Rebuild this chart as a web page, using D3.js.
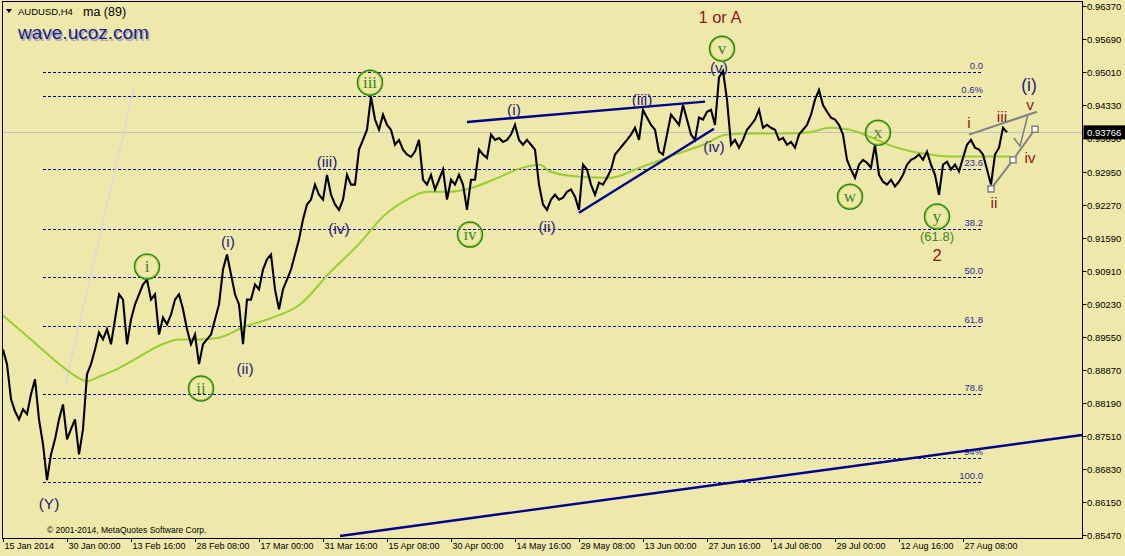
<!DOCTYPE html>
<html><head><meta charset="utf-8">
<script src="https://cdn.jsdelivr.net/npm/d3@7"></script>
<style>
html,body{margin:0;padding:0;background:#eee8aa;}
svg{display:block;}
</style>
</head><body>
<svg id="c" width="1125" height="556"></svg>
<script>
// ---------- data ----------
const dateLabels = ["15 Jan 2014","30 Jan 00:00","13 Feb 16:00","28 Feb 08:00","17 Mar 00:00","31 Mar 16:00","15 Apr 08:00","30 Apr 00:00","14 May 16:00","29 May 08:00","13 Jun 00:00","27 Jun 16:00","14 Jul 08:00","29 Jul 00:00","12 Aug 16:00","27 Aug 08:00"];
const dateTickBars = [0,64,128,192,256,320,384,448,512,576,640,704,768,832,896,960];
const priceTicks = [0.96370,0.95690,0.95010,0.94330,0.93650,0.92950,0.92270,0.91590,0.90910,0.90230,0.89550,0.88870,0.88190,0.87510,0.86830,0.86150,0.85470];
const barStep = 4; // one sample every 4 H4 bars
const closes = [
0.8929,0.8899,0.8827,0.8802,0.8785,0.8806,0.8796,0.8837,0.8868,0.8785,
0.8734,0.8660,0.8713,0.8744,0.8785,0.8816,0.8744,0.8765,0.8785,0.8713,
0.8765,0.8878,0.8899,0.8929,0.8964,0.8950,0.8971,0.8940,0.8991,0.9043,
0.9032,0.8940,0.8991,0.9022,0.9043,0.9063,0.9073,0.9032,0.9043,0.8960,
0.8995,0.8981,0.9001,0.9032,0.9043,0.9012,0.8971,0.8940,0.8960,0.8899,
0.8940,0.8950,0.8960,0.8991,0.9022,0.9094,0.9125,0.9084,0.9043,0.9022,
0.8940,0.9032,0.9032,0.9063,0.9053,0.9094,0.9115,0.9125,0.9053,0.9012,
0.9053,0.9073,0.9094,0.9125,0.9156,0.9197,0.9228,0.9238,0.9269,0.9248,
0.9238,0.9289,0.9248,0.9228,0.9217,0.9238,0.9289,0.9269,0.9269,0.9341,
0.9361,0.9382,0.9450,0.9403,0.9382,0.9413,0.9392,0.9382,0.9351,0.9361,
0.9341,0.9331,0.9326,0.9337,0.9361,0.9279,0.9269,0.9289,0.9259,0.9279,
0.9300,0.9238,0.9279,0.9269,0.9289,0.9269,0.9217,0.9279,0.9279,0.9341,
0.9331,0.9324,0.9372,0.9361,0.9365,0.9357,0.9361,0.9372,0.9392,0.9361,
0.9351,0.9361,0.9351,0.9341,0.9269,0.9228,0.9217,0.9238,0.9248,0.9238,
0.9242,0.9254,0.9259,0.9244,0.9217,0.9310,0.9300,0.9269,0.9248,0.9273,
0.9269,0.9283,0.9300,0.9331,0.9341,0.9351,0.9361,0.9372,0.9386,0.9361,
0.9423,0.9407,0.9392,0.9382,0.9337,0.9331,0.9372,0.9413,0.9403,0.9392,
0.9433,0.9403,0.9372,0.9361,0.9407,0.9403,0.9419,0.9423,0.9392,0.9490,
0.9503,0.9444,0.9351,0.9361,0.9345,0.9361,0.9382,0.9392,0.9403,0.9423,
0.9386,0.9392,0.9386,0.9382,0.9361,0.9365,0.9351,0.9357,0.9345,0.9372,
0.9382,0.9392,0.9413,0.9444,0.9464,0.9433,0.9419,0.9407,0.9403,0.9392,
0.9372,0.9320,0.9300,0.9283,0.9310,0.9320,0.9314,0.9304,0.9351,0.9289,
0.9275,0.9269,0.9279,0.9265,0.9275,0.9289,0.9310,0.9320,0.9324,0.9331,
0.9320,0.9337,0.9310,0.9289,0.9248,0.9310,0.9316,0.9300,0.9310,0.9296,
0.9324,0.9351,0.9361,0.9345,0.9341,0.9331,0.9300,0.9269,0.9331,0.9345,
0.9386,0.93766
];
const maBars = [0,30,54,67,84,97,117,137,157,177,197,217,240,267,297,327,357,380,404,424,444,470,497,520,537,547,577,607,637,667,700,724,754,780,807,827,847,867,894,920,947,974,1007];
const maValues = [0.8999,0.8946,0.8903,0.8882,0.8864,0.8874,0.8892,0.8915,0.8938,0.8950,0.8950,0.8954,0.8975,0.8993,0.9022,0.9088,0.9149,0.9203,0.9238,0.9254,0.9254,0.9263,0.9285,0.9304,0.9310,0.9296,0.9285,0.9283,0.9304,0.9327,0.9351,0.9372,0.9374,0.9374,0.9377,0.9386,0.9382,0.9367,0.9345,0.9333,0.9327,0.9327,0.9327];
const lastPrice = 0.93766;
const fibHigh = 0.9500, fibLow = 0.8656;
const fibRatios = [0,0.057,0.236,0.382,0.5,0.618,0.786,0.94,1.0];
const fibLabels = ["0.0","0.6%","23.6","38.2","50.0","61.8","78.6","94%","100.0"];
const fibFromBar = 40, fibToBar = 980;
// trendlines [bar, price, bar, price]
const blueLines = [[464,0.9398,702,0.9440],[576,0.9211,711,0.9384],[337,0.8545,1079,0.8753]];
const faintLine = [62,0.8853,131,0.9468];
const grayUpper = [[966,0.9372],[1034,0.9419]];
const grayPath = [[988,0.9260],[1010,0.9320],[1032,0.9383]];
const grayArrow = [[1025,0.9414],[1017,0.9348],[1011,0.9365]];
// wave labels [text, bar, price]
const navyLabels = [["(Y)",46,0.8611],["(i)",225,0.9152],["(ii)",242,0.8890],["(iii)",324,0.9316],["(iv)",336,0.9178],["(i)",511,0.9423],["(ii)",544,0.9182],["(iii)",639,0.9444],["(iv)",711,0.9347],["(v)",716,0.9511]];
const bigNavyLabels = [["(i)",1026,0.9474]];
const circleLabels = [["i",144,0.9100],["ii",198,0.8849],["iii",367,0.9479],["iv",467,0.9166],["v",719,0.9549],["w",847,0.9244],["x",875,0.9376],["y",934,0.9203]];
const redLabels = [["i",966,0.9396],["ii",991,0.9232],["iii",999,0.9409],["iv",1027,0.9324],["v",1027,0.9435]];
const bigRedLabels = [["2",934,0.9124],["1 or A",717,0.9614]];
const greenLabels = [["(61.8)",934,0.9162]];

// ---------- scales ----------
const W = 1125, H = 556;
const L = 2.5, R = 1082.5, T = 1.5, B = 538;
const x = d3.scaleLinear().domain([-1, 1079]).range([2, 1082]);
const y = d3.scaleLinear().domain([0.85408, 0.96452]).range([538, 2]);

const svg = d3.select("#c");
svg.append("rect").attr("width", W).attr("height", H).attr("fill", "#eee8aa");
svg.append("defs").append("clipPath").attr("id","clip")
  .append("rect").attr("x", L).attr("y", T).attr("width", R - L).attr("height", B - T);
const plot = svg.append("g").attr("clip-path","url(#clip)");

// fib levels
const fibG = plot.append("g");
fibRatios.forEach((r, i) => {
  const p = fibHigh - r * (fibHigh - fibLow);
  fibG.append("line").attr("x1", x(fibFromBar)).attr("x2", x(fibToBar))
    .attr("y1", Math.round(y(p)) + 0.5).attr("y2", Math.round(y(p)) + 0.5)
    .attr("stroke", "#00008b").attr("stroke-width", 1).attr("stroke-dasharray", "3,2");
  fibG.append("text").attr("x", x(fibToBar)).attr("y", y(p) - 3)
    .attr("text-anchor", "end").attr("font-family", "Liberation Sans, Arial, sans-serif")
    .attr("font-size", 9.5).attr("fill", "#2a2a9a").text(fibLabels[i]);
});

// current price line
plot.append("line").attr("x1", L).attr("x2", R)
  .attr("y1", Math.round(y(lastPrice)) + 0.5).attr("y2", Math.round(y(lastPrice)) + 0.5)
  .attr("stroke", "#c0c0c0").attr("stroke-width", 1);

// faint line
plot.append("line").attr("x1", x(faintLine[0])).attr("y1", y(faintLine[1]))
  .attr("x2", x(faintLine[2])).attr("y2", y(faintLine[3]))
  .attr("stroke", "#d6d4e6").attr("stroke-width", 1.2);

// MA
const maData = maBars.map((b, i) => [b, maValues[i]]);
plot.append("path").datum(maData)
  .attr("d", d3.line().x(d => x(d[0])).y(d => y(d[1])).curve(d3.curveMonotoneX))
  .attr("fill", "none").attr("stroke", "#9acd32").attr("stroke-width", 2);

// price
const priceData = closes.map((c, i) => [i * barStep, c]);
plot.append("path").datum(priceData)
  .attr("d", d3.line().x(d => x(d[0])).y(d => y(d[1])))
  .attr("fill", "none").attr("stroke", "#000").attr("stroke-width", 2.1)
  .attr("stroke-linejoin", "miter");

// blue trendlines
blueLines.forEach(l => {
  plot.append("line").attr("x1", x(l[0])).attr("y1", y(l[1])).attr("x2", x(l[2])).attr("y2", y(l[3]))
    .attr("stroke", "#00008b").attr("stroke-width", 2.4);
});

// gray projection
const gl = d3.line().x(d => x(d[0])).y(d => y(d[1]));
plot.append("path").attr("d", gl(grayUpper)).attr("fill","none").attr("stroke","#808080").attr("stroke-width",2);
plot.append("path").attr("d", gl(grayPath)).attr("fill","none").attr("stroke","#808080").attr("stroke-width",2);
plot.append("path").attr("d", gl(grayArrow)).attr("fill","none").attr("stroke","#808080").attr("stroke-width",1.6);
grayPath.forEach(d => {
  plot.append("rect").attr("x", x(d[0]) - 3).attr("y", y(d[1]) - 3).attr("width", 6).attr("height", 6)
    .attr("fill", "#ffffff").attr("stroke", "#808080").attr("stroke-width", 1.5);
});

// labels
const lg = svg.append("g");
function addText(arr, opts) {
  arr.forEach(d => {
    lg.append("text").attr("x", x(d[1])).attr("y", y(d[2]))
      .attr("text-anchor", "middle").attr("dominant-baseline", "central")
      .attr("font-family", opts.family).attr("font-size", opts.size).attr("fill", opts.color)
      .text(d[0]);
  });
}
circleLabels.forEach(d => {
  const cx = x(d[1]), cy = y(d[2]);
  lg.append("circle").attr("cx", cx).attr("cy", cy).attr("r", 11.3)
    .attr("fill", "none").attr("stroke", "#d4c830").attr("stroke-width", 1);
  lg.append("circle").attr("cx", cx).attr("cy", cy).attr("r", 12.5)
    .attr("fill", "none").attr("stroke", "#1a8a1a").attr("stroke-width", 1.5);
});
addText(circleLabels, {family: "Liberation Serif, Times New Roman, serif", size: 17, color: "#3a8a1a"});
addText(navyLabels, {family: "Liberation Sans, Arial, sans-serif", size: 15.5, color: "#26207a"});
addText(bigNavyLabels, {family: "Liberation Sans, Arial, sans-serif", size: 17.5, color: "#26207a"});
addText(redLabels, {family: "Liberation Sans, Arial, sans-serif", size: 15.5, color: "#8b1a1a"});
addText(bigRedLabels, {family: "Liberation Sans, Arial, sans-serif", size: 16.5, color: "#8b1a1a"});
addText(greenLabels, {family: "Liberation Sans, Arial, sans-serif", size: 13, color: "#3a8a1a"});

// frame
svg.append("rect").attr("x", L).attr("y", T).attr("width", R - L).attr("height", B - T + 0.5)
  .attr("fill", "none").attr("stroke", "#000").attr("stroke-width", 1);

// right axis
const ya = svg.append("g").attr("transform", `translate(${R},0)`)
  .call(d3.axisRight(y).tickValues(priceTicks).tickFormat(d3.format(".5f")).tickSize(4).tickSizeOuter(0));
ya.select(".domain").remove();
ya.selectAll("text").attr("font-family", "Liberation Sans, Tahoma, sans-serif").attr("font-size", 9.5)
  .attr("fill", "#000").attr("x", 4.5);
ya.selectAll("line").attr("stroke", "#000");

// bottom axis
const xa = svg.append("g").attr("transform", `translate(0,${B})`)
  .call(d3.axisBottom(x).tickValues(dateTickBars).tickFormat((d, i) => dateLabels[i]).tickSize(4).tickSizeOuter(0));
xa.select(".domain").remove();
xa.selectAll("text").attr("font-family", "Liberation Sans, Tahoma, sans-serif").attr("font-size", 9)
  .attr("fill", "#000").attr("text-anchor", "start").attr("dx", 1).attr("y", 5);
xa.selectAll("line").attr("stroke", "#000");

// current price tag
svg.append("rect").attr("x", R + 1).attr("y", y(lastPrice) - 7).attr("width", W - R - 1).attr("height", 14).attr("fill", "#000");
svg.append("text").attr("x", R + 4.5).attr("y", y(lastPrice)).attr("dominant-baseline", "central")
  .attr("font-family", "Liberation Sans, Tahoma, sans-serif").attr("font-size", 9.5).attr("fill", "#fff")
  .text(d3.format(".5f")(lastPrice));

// header texts
svg.append("path").attr("d", "M6,9 L12,9 L9,13 Z").attr("fill", "#000");
svg.append("text").attr("x", 18).attr("y", 15).attr("font-family", "Liberation Sans, Tahoma, sans-serif")
  .attr("font-size", 9.5).attr("fill", "#000").text("AUDUSD,H4");
svg.append("text").attr("x", 83).attr("y", 16).attr("font-family", "Liberation Sans, Arial, sans-serif")
  .attr("font-size", 12.5).attr("fill", "#000").text("ma (89)");
svg.append("text").attr("x", 19.5).attr("y", 41).attr("font-family", "Liberation Sans, Arial, sans-serif")
  .attr("font-size", 19).attr("fill", "#a8a8b0").text("wave.ucoz.com");
svg.append("text").attr("x", 18).attr("y", 39).attr("font-family", "Liberation Sans, Arial, sans-serif")
  .attr("font-size", 19).attr("fill", "#1a1a8c").text("wave.ucoz.com");
svg.append("text").attr("x", 47).attr("y", 533).attr("font-family", "Liberation Sans, Tahoma, sans-serif")
  .attr("font-size", 8.5).attr("fill", "#000").text("© 2001-2014, MetaQuotes Software Corp.");
</script>
</body></html>
